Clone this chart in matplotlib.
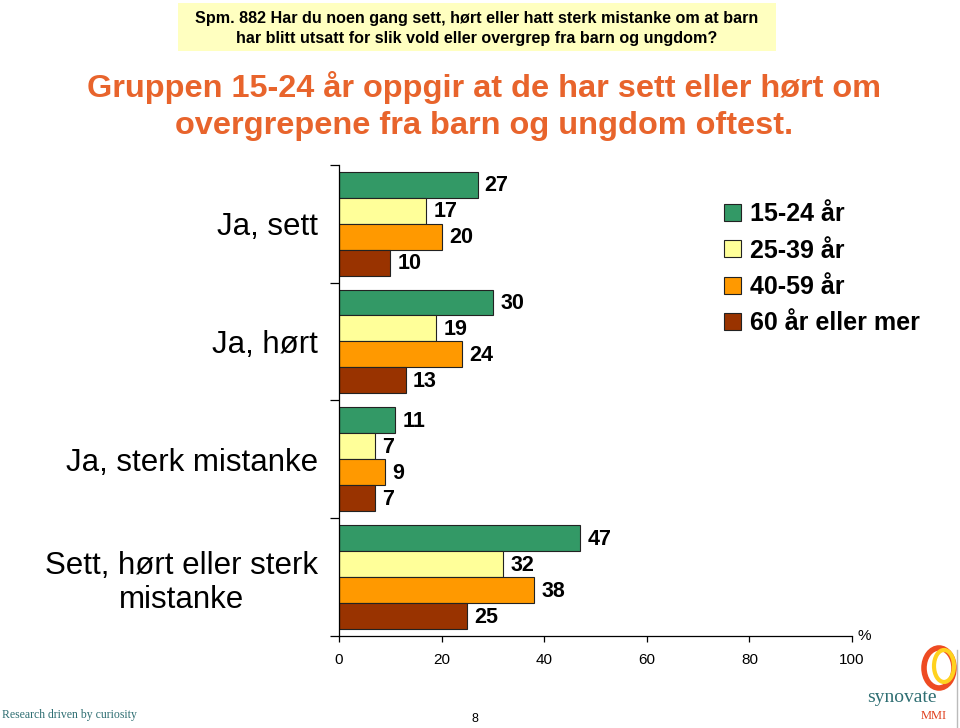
import matplotlib
matplotlib.use("Agg")
import matplotlib.pyplot as plt
from matplotlib.patches import Rectangle, Ellipse

plt.rcParams['font.family'] = ['Liberation Sans', 'DejaVu Sans']

# data
categories = ["Ja, sett", "Ja, hørt", "Ja, sterk mistanke", "Sett, hørt eller sterk\nmistanke"]
age_groups = ["15-24 år", "25-39 år", "40-59 år", "60 år eller mer"]
v_15_24 = [27, 30, 11, 47]
v_25_39 = [17, 19, 7, 32]
v_40_59 = [20, 24, 9, 38]
v_60 = [10, 13, 7, 25]
series = [v_15_24, v_25_39, v_40_59, v_60]
colors = ['#339966', '#FFFF99', '#FF9900', '#993300']
xticks = [0, 20, 40, 60, 80, 100]

W, H = 960, 728
fig = plt.figure(figsize=(W / 100, H / 100), dpi=100)

# main axes (pixel positions from reference)
left, right, top, bottom = 339, 852, 164.7, 636
ax = fig.add_axes([left / W, (H - bottom) / H, (right - left) / W, (bottom - top) / H])

bar_h = 26 / 118
pad = 7 / 118
for j, vals in enumerate(series):
    ys = [g + pad + bar_h * (j + 0.5) for g in range(len(categories))]
    ax.barh(ys, vals, height=bar_h, color=colors[j], edgecolor='#222222', linewidth=0.8,
            label=age_groups[j])
    for y, v in zip(ys, vals):
        ax.text(v + 1.4, y + 0.01, str(v), ha='left', va='center', fontsize=15.5, fontweight='bold')

ax.set_xlim(0, 100)
ax.set_ylim(len(categories), 0)
ax.spines['top'].set_visible(False)
ax.spines['right'].set_visible(False)
ax.spines['left'].set_linewidth(0.9)
ax.spines['bottom'].set_linewidth(0.9)
ax.set_xticks(xticks)
ax.set_xticklabels([str(t) for t in xticks], fontsize=11)
ax.tick_params(axis='x', direction='out', length=4, width=0.9, pad=8)

ax.set_yticks([g + 0.5 for g in range(len(categories))])
ax.set_yticklabels(categories, fontsize=22.5, multialignment='center')
ax.set_yticks(range(len(categories) + 1), minor=True)
ax.tick_params(axis='y', which='major', length=0, pad=15)
ax.tick_params(axis='y', which='minor', direction='out', length=6.5, width=0.9)

ax.legend(loc='upper left', bbox_to_anchor=(714 / W, 1 - 192 / H), bbox_transform=fig.transFigure,
          frameon=False, prop={'size': 18, 'weight': 'bold'}, handlelength=0.68,
          handleheight=0.68, handletextpad=0.36, labelspacing=0.5, borderaxespad=0)

# overlay in pixel coordinates for titles and footer
ov = fig.add_axes([0, 0, 1, 1], facecolor='none')
ov.set_xlim(0, W)
ov.set_ylim(H, 0)
ov.axis('off')

ov.add_patch(Rectangle((178, 3), 598, 48, facecolor='#FFFFC0', edgecolor='none'))
ov.text(477, 18, "Spm. 882 Har du noen gang sett, hørt eller hatt sterk mistanke om at barn",
        ha='center', va='center', fontsize=11.6, fontweight='bold')
ov.text(477, 39, "har blitt utsatt for slik vold eller overgrep fra barn og ungdom?",
        ha='center', va='center', fontsize=11.6, fontweight='bold')

ov.text(484, 88, "Gruppen 15-24 år oppgir at de har sett eller hørt om",
        ha='center', va='center', fontsize=23.4, fontweight='bold', color='#E8642C')
ov.text(484, 126, "overgrepene fra barn og ungdom oftest.",
        ha='center', va='center', fontsize=23.4, fontweight='bold', color='#E8642C')

ov.text(857, 636, "%", ha='left', va='center', fontsize=11)

ov.text(2, 715, "Research driven by curiosity", ha='left', va='center', fontsize=8.5,
        family='Liberation Serif', color='#2E6E72')
ov.text(475, 719, "8", ha='center', va='center', fontsize=9)

# synovate logo
ov.add_patch(Ellipse((939, 668), 30, 40, fill=False, edgecolor='#EE4B22', linewidth=4))
ov.add_patch(Ellipse((944, 666), 20, 32, fill=False, edgecolor='#FFD21F', linewidth=3))
ov.text(902, 697, "synovate", ha='center', va='center', fontsize=14,
        family='Liberation Serif', color='#2E6E72')
ov.text(934, 716, "MMI", ha='center', va='center', fontsize=9,
        family='Liberation Serif', color='#E0401E')
ov.plot([957, 957], [650, 728], color='#BBBBBB', linewidth=1)

fig.savefig("out.png", dpi=100)
